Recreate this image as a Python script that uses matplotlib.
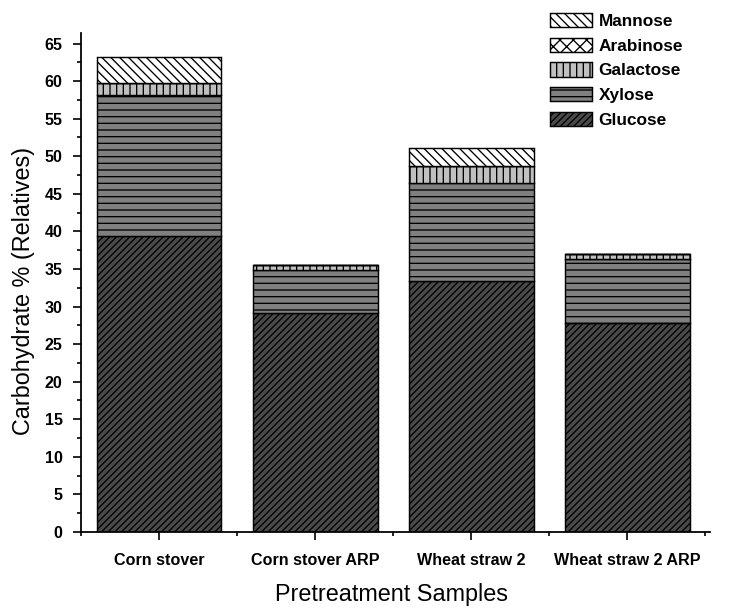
import matplotlib
matplotlib.use("Agg")
import matplotlib.pyplot as plt
import numpy as np
from matplotlib.ticker import MultipleLocator, FixedLocator

plt.rcParams['font.family'] = ['Liberation Sans', 'DejaVu Sans']
plt.rcParams['hatch.linewidth'] = 1.2

samples = ["Corn stover", "Corn stover ARP", "Wheat straw 2", "Wheat straw 2 ARP"]
glucose = [39.4, 29.1, 33.4, 27.8]
xylose = [18.8, 5.7, 13.1, 8.5]
galactose = [1.6, 0.7, 2.2, 0.7]
arabinose = [0.0, 0.0, 0.0, 0.0]
mannose = [3.4, 0.0, 2.4, 0.0]

series = [
    ("Glucose", glucose, "#4a4a4a", "////"),
    ("Xylose", xylose, "#808080", "--"),
    ("Galactose", galactose, "#c0c0c0", "||"),
    ("Arabinose", arabinose, "#ffffff", "xx"),
    ("Mannose", mannose, "#ffffff", "\\\\\\"),
]

dpi = 80
fig = plt.figure(figsize=(730 / dpi, 614 / dpi), dpi=dpi)
ax = fig.add_axes([81 / 730, (614 - 532) / 614, (710 - 81) / 730, (532 - 33) / 614])

x = np.arange(len(samples))
bottom = np.zeros(len(samples))
handles = []
for name, vals, color, hatch in series:
    vals = np.array(vals, dtype=float)
    b = ax.bar(x, vals, width=0.8, bottom=bottom, color=color, edgecolor="black",
               hatch=hatch, linewidth=1.3, label=name)
    handles.append(b)
    bottom += vals

ax.set_xlim(-0.5, 3.53)
ax.set_ylim(0, 66.4)
ax.yaxis.set_major_locator(MultipleLocator(5))
ax.yaxis.set_minor_locator(MultipleLocator(2.5))
ax.set_xticks(x)
ax.set_xticklabels(samples)
ax.xaxis.set_minor_locator(FixedLocator([-0.5, 0.5, 1.5, 2.5, 3.5]))

for s in ["top", "right"]:
    ax.spines[s].set_visible(False)
for s in ["left", "bottom"]:
    ax.spines[s].set_linewidth(1.6)

ax.tick_params(axis="both", which="major", direction="out", length=7, width=1.5, labelsize=14.5)
ax.tick_params(axis="both", which="minor", direction="out", length=3.6, width=1.5)
ax.tick_params(axis="y", which="major", pad=9.5)
ax.tick_params(axis="x", which="major", pad=12)
for lab in ax.get_xticklabels() + ax.get_yticklabels():
    lab.set_fontweight("bold")

ax.set_ylabel("Carbohydrate % (Relatives)", fontsize=21, labelpad=8.5)
ax.set_xlabel("Pretreatment Samples", fontsize=21, labelpad=13)
ax.yaxis.label.set_y(0.483)
ax.xaxis.label.set_x(0.4944)

leg = fig.legend(handles[::-1], [s[0] for s in series][::-1], loc="upper left",
                 bbox_to_anchor=(550 / 730, (614 - 13) / 614),
                 bbox_transform=fig.transFigure,
                 frameon=False, prop={"size": 15.5, "weight": "bold"},
                 handlelength=2.45, handleheight=0.9, labelspacing=0.5,
                 handletextpad=0.36, borderaxespad=0.0, borderpad=0.0)

fig.savefig("out.png", dpi=dpi)
